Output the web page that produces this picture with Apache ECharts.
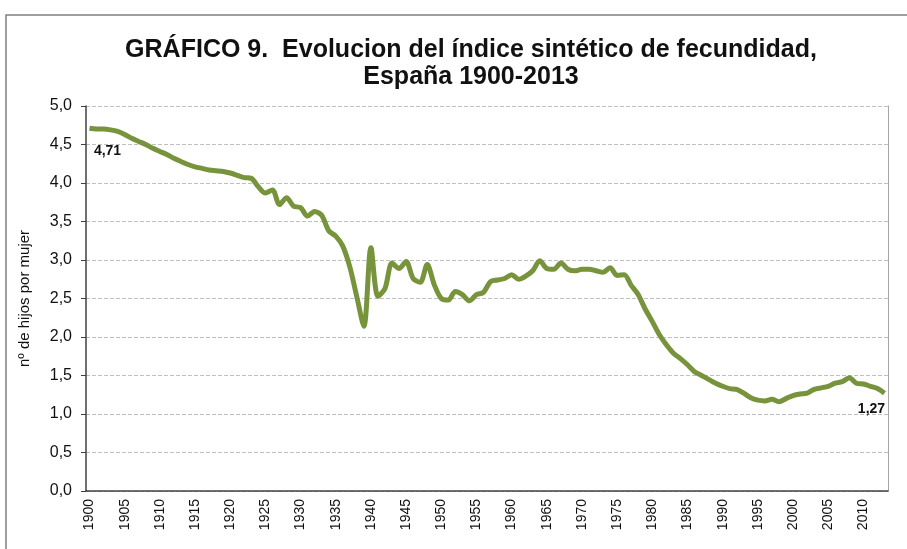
<!DOCTYPE html>
<html>
<head>
<meta charset="utf-8">
<script src="https://cdn.jsdelivr.net/npm/echarts@6/dist/echarts.min.js"></script>
<style>
  html, body { margin: 0; padding: 0; background: #fff; }
  #main { width: 907px; height: 549px; }
</style>
</head>
<body>
<div id="main"></div>
<script>
// años 1900-2013
var years = [];
for (var y = 1900; y <= 2013; y++) years.push(String(y));

// índice sintético de fecundidad
var isf = [
  4.71, 4.70, 4.70, 4.69, 4.67, 4.63, 4.58, 4.54, 4.50, 4.45,
  4.41, 4.37, 4.32, 4.28, 4.24, 4.21, 4.19, 4.17, 4.16, 4.15,
  4.13, 4.10, 4.07, 4.06, 3.95, 3.87, 3.91, 3.72, 3.81, 3.70,
  3.68, 3.57, 3.63, 3.58, 3.38, 3.31, 3.18, 2.91, 2.52, 2.14,
  3.16, 2.53, 2.63, 2.96, 2.89, 2.98, 2.76, 2.71, 2.94, 2.68,
  2.50, 2.48, 2.59, 2.55, 2.47, 2.55, 2.58, 2.72, 2.74, 2.76,
  2.81, 2.75, 2.79, 2.86, 2.99, 2.89, 2.88, 2.96, 2.88, 2.86,
  2.88, 2.88, 2.86, 2.84, 2.90, 2.80, 2.81, 2.67, 2.55, 2.36,
  2.20, 2.03, 1.90, 1.79, 1.72, 1.64, 1.55, 1.50, 1.45, 1.40,
  1.36, 1.33, 1.32, 1.27, 1.21, 1.18, 1.17, 1.19, 1.16, 1.20,
  1.24, 1.26, 1.27, 1.32, 1.34, 1.36, 1.40, 1.42, 1.47, 1.40,
  1.39, 1.36, 1.33, 1.27
];

var yTicks = [0, 0.5, 1, 1.5, 2, 2.5, 3, 3.5, 4, 4.5, 5];

function coma(v, d) {
  return v.toFixed(d).replace('.', ',');
}

var last = isf.length - 1;

var myChart = echarts.init(document.getElementById('main'));

var option = {
  backgroundColor: '#fff',
  animation: false,
  textStyle: { fontFamily: 'Liberation Sans, Arial, sans-serif' },
  title: {
    text: 'GRÁFICO 9.  Evolucion del índice sintético de fecundidad,\nEspaña 1900-2013',
    left: 466,
    top: 32,
    textAlign: 'center',
    textStyle: {
      fontSize: 25,
      fontWeight: 'bold',
      color: '#111',
      lineHeight: 27,
      fontFamily: 'Liberation Sans, Arial, sans-serif'
    }
  },
  graphic: [{
    type: 'rect',
    shape: { x: 6, y: 15, width: 1000, height: 1000 },
    style: { fill: 'none', stroke: '#7f7f7f', lineWidth: 1.5 },
    z: -1
  }],
  grid: { left: 86, right: 19, top: 106, bottom: 58 },
  xAxis: {
    type: 'category',
    data: years,
    boundaryGap: true,
    axisLine: { lineStyle: { color: '#404040', width: 1.5 } },
    axisTick: { interval: 0, length: 4, lineStyle: { color: '#404040' } },
    axisLabel: {
      interval: 4,
      rotate: 90,
      fontSize: 14,
      color: '#111',
      margin: 8
    },
    splitLine: { show: false }
  },
  yAxis: [{
    type: 'value',
    min: yTicks[0],
    max: yTicks[yTicks.length - 1],
    interval: 0.5,
    name: 'nº de hijos por mujer',
    nameLocation: 'middle',
    nameGap: 54,
    nameTextStyle: { fontSize: 15, color: '#111' },
    axisLine: { show: true, lineStyle: { color: '#404040', width: 1.5 } },
    axisTick: { show: true, length: 5, lineStyle: { color: '#404040' } },
    axisLabel: {
      fontSize: 16,
      color: '#111',
      margin: 14,
      formatter: function (v) { return coma(v, 1); }
    },
    splitLine: { lineStyle: { color: '#bfbfbf', type: 'dashed', width: 1 } }
  }, {
    type: 'value',
    position: 'right',
    min: 0, max: 5, interval: 0.5,
    axisLine: { show: true, lineStyle: { color: '#a6a6a6', width: 1 } },
    axisTick: { show: false },
    axisLabel: { show: false },
    splitLine: { show: false }
  }],
  series: [{
    name: 'ISF',
    type: 'line',
    data: isf,
    smooth: 0.3,
    symbol: 'none',
    lineStyle: { color: '#77933c', width: 5 },
    markPoint: {
      symbol: 'circle',
      symbolSize: 0,
      label: {
        show: true,
        position: 'inside',
        fontSize: 14,
        fontWeight: 'bold',
        color: '#111',
        formatter: function (p) { return coma(p.value, 2); }
      },
      data: [
        { coord: [years[0], isf[0]], value: isf[0], label: { offset: [18, 23] } },
        { coord: [years[last], isf[last]], value: isf[last], label: { offset: [-13, 16] } }
      ]
    }
  }]
};

myChart.setOption(option);
</script>
</body>
</html>
